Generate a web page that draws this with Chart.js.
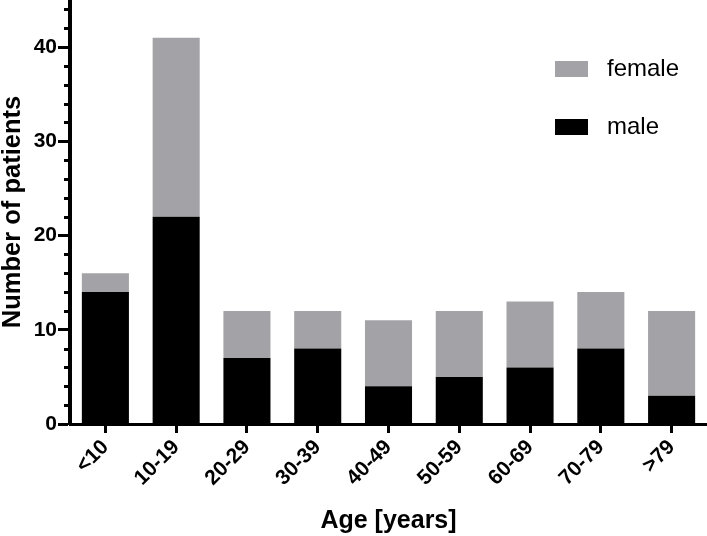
<!DOCTYPE html>
<html>
<head>
<meta charset="utf-8">
<script src="https://cdn.jsdelivr.net/npm/chart.js@4/dist/chart.umd.min.js"></script>
<style>
html,body{margin:0;padding:0;background:#fff;}
#c{display:block;}
</style>
</head>
<body>
<canvas id="c" width="707" height="536"></canvas>
<script>
const categories = ['<10','10-19','20-29','30-39','40-49','50-59','60-69','70-79','>79'];
const male = [14, 22, 7, 8, 4, 5, 6, 8, 3];
const female = [2, 19, 5, 4, 7, 7, 7, 6, 9];
const yMajorTicks = [0, 10, 20, 30, 40];
const yMinorTicks = [2,4,6,8,12,14,16,18,22,24,26,28,32,34,36,38,42,44];
const legendLabels = ['female', 'male'];

const FONT = '"Liberation Sans", Arial, Helvetica, sans-serif';
const GREY = '#a3a3a7';
const BLACK = '#000000';

const minorTicksAndLegend = {
  id: 'minorTicksAndLegend',
  afterDraw(chart) {
    const ctx = chart.ctx;
    const y = chart.scales.y;
    const x0 = chart.chartArea.left;
    ctx.save();
    ctx.strokeStyle = BLACK;
    ctx.lineWidth = 3;
    yMinorTicks.forEach(v => {
      const py = Math.round(y.getPixelForValue(v)) + 0.5;
      ctx.beginPath();
      ctx.moveTo(x0 - 6, py);
      ctx.lineTo(x0, py);
      ctx.stroke();
    });
    // legend
    const items = [
      {label: legendLabels[0], color: chart.data.datasets[1].backgroundColor},
      {label: legendLabels[1], color: chart.data.datasets[0].backgroundColor}
    ];
    ctx.font = '24px ' + FONT;
    ctx.textBaseline = 'middle';
    ctx.textAlign = 'left';
    items.forEach((it, i) => {
      const cy = 69 + i * 58;
      ctx.fillStyle = it.color;
      ctx.fillRect(555, cy - 8, 33, 16);
      ctx.fillStyle = BLACK;
      ctx.fillText(it.label, 607, cy);
    });
    ctx.restore();
  }
};

new Chart(document.getElementById('c'), {
  type: 'bar',
  data: {
    labels: categories,
    datasets: [
      {label: 'male', data: male, backgroundColor: BLACK, borderWidth: 0,
       barPercentage: 0.665, categoryPercentage: 1.0},
      {label: 'female', data: female, backgroundColor: GREY, borderWidth: 0,
       barPercentage: 0.665, categoryPercentage: 1.0}
    ]
  },
  options: {
    responsive: false,
    animation: false,
    devicePixelRatio: 1,
    layout: {padding: {left: 0, right: 0, top: 0, bottom: 0}},
    plugins: {legend: {display: false}, tooltip: {enabled: false}},
    scales: {
      x: {
        stacked: true,
        afterFit(s) { s.height = 112; s.paddingLeft = 0; s.paddingRight = 0; },
        border: {display: true, color: BLACK, width: 3},
        grid: {display: true, drawOnChartArea: false, offset: false, tickLength: 9, tickWidth: 3, tickColor: BLACK},
        ticks: {color: BLACK, font: {family: FONT, size: 21, weight: 'bold'}, minRotation: 45, maxRotation: 45, padding: 2, autoSkip: false},
        title: {display: true, text: 'Age [years]', color: BLACK, font: {family: FONT, size: 25, weight: 'bold', lineHeight: 1}, padding: {top: 0, bottom: 2}}
      },
      y: {
        stacked: true,
        min: 0,
        max: 45,
        afterFit(s) { s.width = 70; s.paddingTop = 0; s.paddingBottom = 0; },
        afterBuildTicks(s) { s.ticks = yMajorTicks.map(v => ({value: v})); },
        border: {display: true, color: BLACK, width: 4},
        grid: {display: true, drawOnChartArea: false, tickLength: 12, tickWidth: 3, tickColor: BLACK},
        ticks: {color: BLACK, font: {family: FONT, size: 21, weight: 'bold'}, padding: 1, autoSkip: false},
        title: {display: true, text: 'Number of patients', color: BLACK, font: {family: FONT, size: 25.5, weight: 'bold', lineHeight: 1}, padding: {top: 0, bottom: 0}}
      }
    }
  },
  plugins: [minorTicksAndLegend]
});
</script>
</body>
</html>
